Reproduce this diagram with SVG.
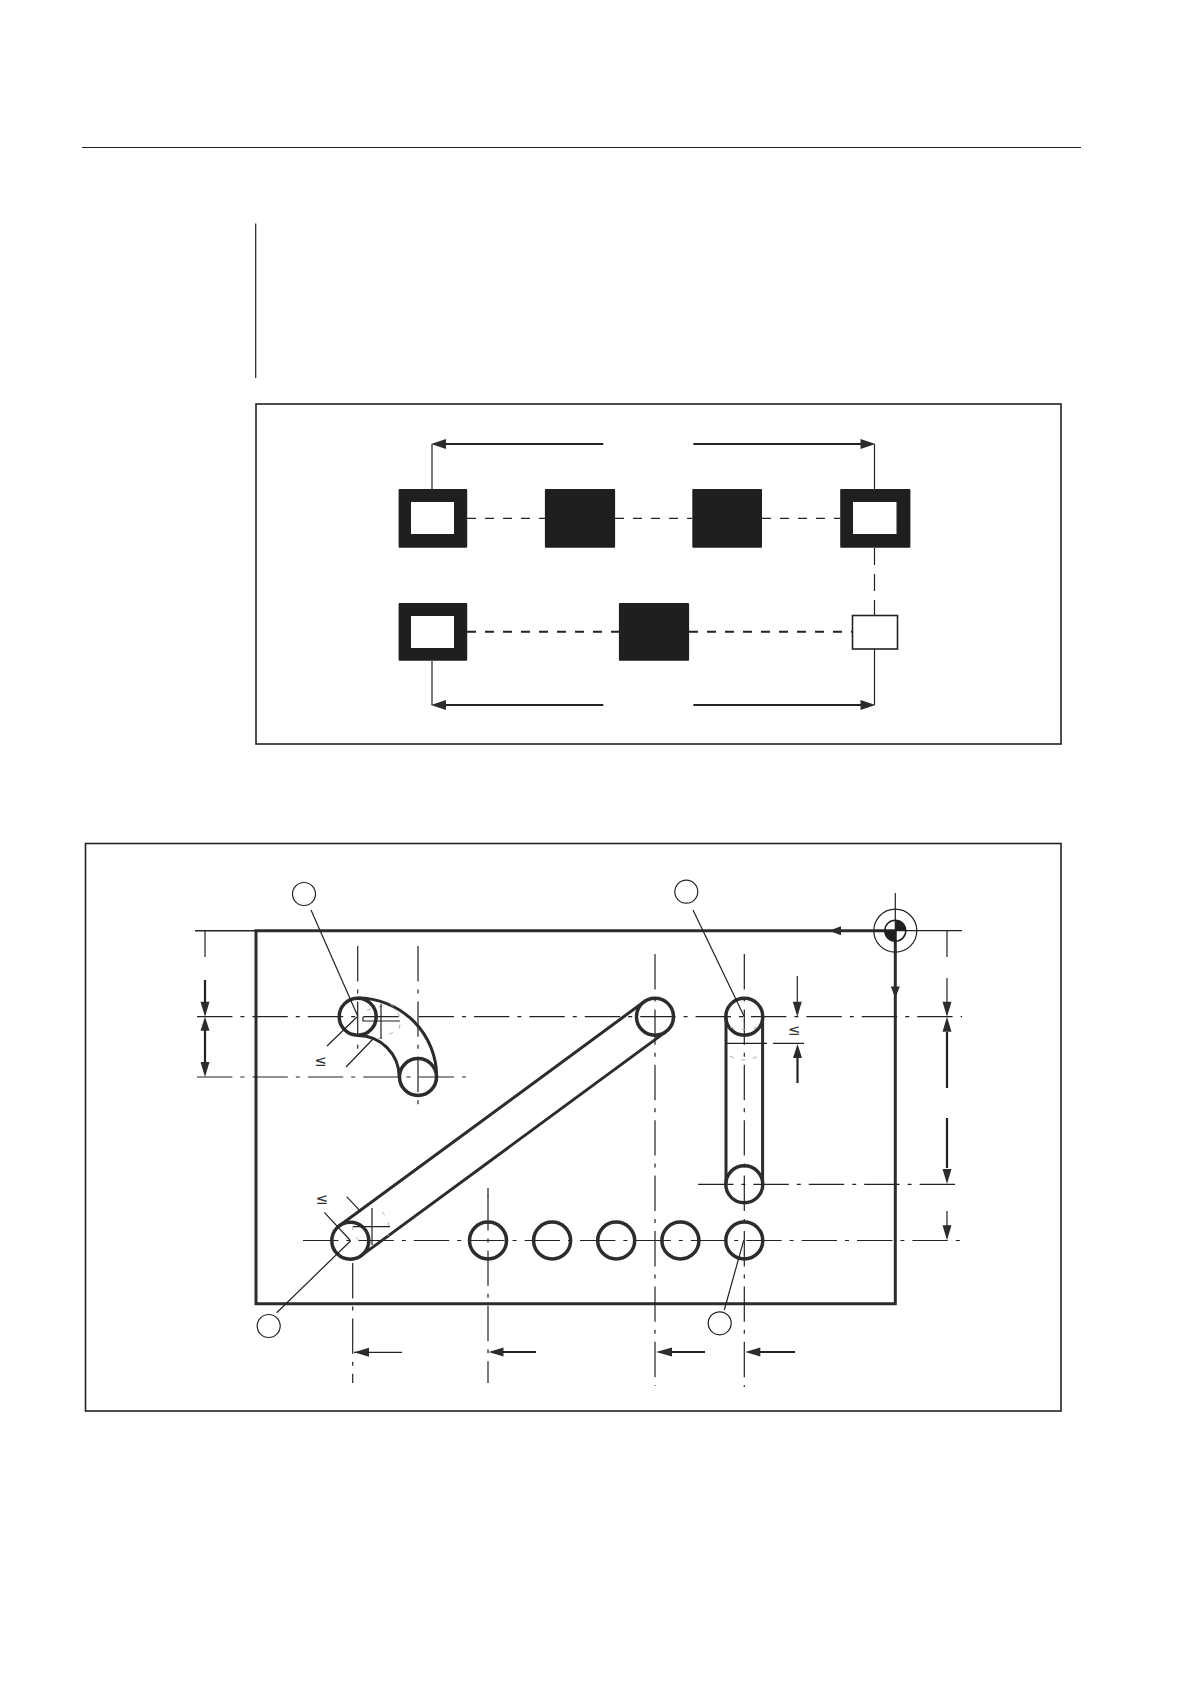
<svg xmlns="http://www.w3.org/2000/svg" width="1190" height="1684" viewBox="0 0 1190 1684">
<style>
.t{fill:none;stroke:#222;stroke-width:1.2}
.m{fill:none;stroke:#222;stroke-width:1.5}
.h{fill:none;stroke:#2c2c2c;stroke-width:3}
.n{fill:none;stroke:#222;stroke-width:2.2}
.c{fill:none;stroke:#222;stroke-width:1.2;stroke-dasharray:35.400 8 4 8}
.d{fill:none;stroke:#222;stroke-width:1.2;stroke-dasharray:9 9}
.db{fill:none;stroke:#222;stroke-width:2;stroke-dasharray:9 9}
.f{fill:none;stroke:#aaa;stroke-width:1;stroke-dasharray:4 8}
.k{fill:#1d1f21}
.w{fill:#fff}
.a{fill:#2c2c2c}
.hole{fill:none;stroke:#2c2c2c;stroke-width:3.500}
.call{fill:#fff;stroke:#222;stroke-width:1.200}
.le{font-family:"DejaVu Sans",sans-serif;font-size:15px;fill:#333}
</style>
<rect width="1190" height="1684" fill="#fff"/>
<g id="page-rules">
<line class="t" x1="82" y1="147.500" x2="1081" y2="147.500"/>
<line class="t" x1="255.700" y1="223.500" x2="255.700" y2="378"/>
</g>
<g id="frame-top"><rect x="256" y="404" width="805" height="340" fill="none" stroke="#222" stroke-width="1.6"/></g>
<g id="connectors-top">
<path class="d" d="M467 518.300H545M615 518.300H692M762 518.300H840"/>
<path class="db" d="M467 631.700H619M689 631.700H852"/>
<path class="d" style="stroke-dasharray:17 9" d="M874.500 548V615"/>
<path class="t" d="M432 489V444M874.500 489V444M432 661V705M874.500 649V705"/>
<path class="n" d="M442 444H603.300M693.400 444H865M442 705H603.300M693.400 705H865"/>
<path class="a" d="M431 444l15-5v10zM875.500 444l-15-5v10zM431 705l15-5v10zM875.500 705l-15-5v10z"/>
</g>
<g id="node-a"><rect class="k" x="398.600" y="489" width="68.600" height="58.700" rx="1"/><rect class="w" x="411" y="502" width="43" height="32"/></g>
<g id="node-b"><rect class="k" x="544.900" y="489" width="70.200" height="58.700" rx="1"/></g>
<g id="node-c"><rect class="k" x="692.300" y="489" width="69.700" height="58.700" rx="1"/></g>
<g id="node-d"><rect class="k" x="840.200" y="489" width="70.200" height="58.700" rx="1"/><rect class="w" x="853" y="502" width="43.500" height="32"/></g>
<g id="node-e"><rect class="k" x="398.600" y="603" width="68.600" height="57.700" rx="1"/><rect class="w" x="411" y="616" width="43" height="32"/></g>
<g id="node-f"><rect class="k" x="618.900" y="603" width="70.200" height="57.700" rx="1"/></g>
<g id="node-g"><rect x="852.500" y="615.500" width="45" height="33.500" fill="#fff" stroke="#222" stroke-width="1.6"/></g>
<g id="frame-bottom"><rect x="85.500" y="843.500" width="975.500" height="567.500" fill="none" stroke="#222" stroke-width="1.6"/></g>
<g id="plate">
<path class="h" d="M895.300 930.700H256V1303.700H895.300V930.700"/>
<line class="m" x1="195" y1="930.700" x2="256" y2="930.700"/>
</g>
<g id="centerlines">
<line class="c" x1="197" y1="1016.700" x2="962" y2="1016.700"/>
<line class="c" x1="197" y1="1077" x2="470" y2="1077"/>
<line class="c" x1="698" y1="1184.300" x2="956" y2="1184.300"/>
<line class="c" x1="303" y1="1240.500" x2="962" y2="1240.500"/>
<line class="c" x1="357.700" y1="946" x2="357.700" y2="1050"/>
<line class="c" x1="418" y1="946" x2="418" y2="1105"/>
<line class="c" x1="655" y1="954" x2="655" y2="1386"/>
<line class="c" x1="744.300" y1="954" x2="744.300" y2="1387"/>
<line class="t" x1="488" y1="1188" x2="488" y2="1196"/>
<line class="c" x1="488" y1="1195" x2="488" y2="1383"/>
<line class="c" x1="352.700" y1="1263" x2="352.700" y2="1383"/>
</g>
<g id="slot-arc">
<path class="h" d="M357.700 998A79 79 0 0 1 436.700 1077M357.700 1035.500A41.500 41.500 0 0 1 399.200 1077"/>
<circle class="hole" cx="357.700" cy="1016.700" r="18.500"/>
<circle class="hole" cx="418" cy="1077" r="18.500"/>
<path class="f" d="M367 1010L390 1004Q403 1012 399 1030L375 1040"/>
<path class="t" d="M363 1017V1021H400M381 1004V1039M327 1046L357 1017M346 1067L373 1039"/>
<text class="le" x="320.500" y="1066" text-anchor="middle">≤</text>
</g>
<g id="slot-diagonal">
<path class="h" d="M361.300 1255.600L666 1031.600M339.300 1225.800L644 1001.800"/>
<circle class="hole" cx="350.300" cy="1240.700" r="18.500"/>
<circle class="hole" cx="655" cy="1016.700" r="18.500"/>
<path class="f" d="M353 1226Q352 1235 360 1241M382 1212Q392 1222 388 1236"/>
<path class="t" d="M372 1208V1245M353 1226.700H390M324.300 1212.300L350 1240M346.700 1196.700L360.700 1211.700"/>
<text class="le" x="321.700" y="1204" text-anchor="middle">≤</text>
</g>
<g id="slot-vertical">
<path class="h" d="M726 1016.700V1184.300M762.600 1016.700V1184.300"/>
<circle class="hole" cx="744.300" cy="1016.700" r="18.500"/>
<circle class="hole" cx="744.300" cy="1184.300" r="18.500"/>
<path class="f" d="M730 1027Q744 1032 758 1027M730 1056Q744 1064 758 1056"/>
<path class="t" d="M726.700 1043.300H767M773 1043.300H804"/>
<text class="le" x="794" y="1035" text-anchor="middle">≤</text>
</g>
<g id="holes">
<circle class="hole" cx="488" cy="1240.500" r="18.500"/>
<circle class="hole" cx="552.100" cy="1240.500" r="18.500"/>
<circle class="hole" cx="616.200" cy="1240.500" r="18.500"/>
<circle class="hole" cx="680.400" cy="1240.500" r="18.500"/>
<circle class="hole" cx="744.300" cy="1240.500" r="18.500"/>
</g>
<g id="origin">
<circle class="t" cx="895.300" cy="930.700" r="21.500"/>
<circle class="m" cx="895.300" cy="930.700" r="10.500"/>
<path class="k" d="M895.300 930.700V920.200A10.500 10.500 0 0 1 905.800 930.700ZM895.300 930.700V941.200A10.500 10.500 0 0 1 884.800 930.700Z"/>
<path class="t" d="M895.300 893V945M875 930.700H962"/>
</g>
<g id="dimensions">
<path class="t" d="M205 931V957M947 931V957M947 978V1002M947 1211V1226M797.300 976V1002M205 1061V1062"/>
<path class="n" d="M205 980V1003M205 1030V1062M947 1032V1088M947 1118V1168M797.500 1058V1083"/>
<path class="t" d="M354 1352.300H402"/>
<path class="n" d="M503 1352H536M671 1352H705M760 1352H795"/>
<path class="a" d="M205 1016.700l-4.500-15h9zM205 1016.700l-4.500 14h9zM205 1077l-4.500-15h9zM947 1016.700l-4.500-15h9zM947 1016.700l-4.500 15h9zM947 1184l-4.500-15h9zM947 1240.300l-4.500-15h9zM797.300 1016.700l-4.500-15h9zM797.500 1044l-4.500 14h9zM829 930.700l12-4.500v9zM895.300 998l-4.500-11.500h9zM354 1352.300l15-4.500v9zM488.500 1352l15-4.500v9zM656 1352l16-4.500v9zM745.300 1352l15-4.500v9z"/>
</g>
<g id="callouts">
<path class="t" d="M311 910L357.700 1016M693 910L744.300 1016.700M276.700 1312.700L350.700 1240.700M724.300 1310L743.700 1240.300"/>
<circle class="call" cx="304" cy="894" r="11.500"/>
<circle class="call" cx="686.300" cy="891.700" r="11.500"/>
<circle class="call" cx="268.700" cy="1326" r="11.500"/>
<circle class="call" cx="719.700" cy="1323.300" r="11.500"/>
</g>
</svg>
